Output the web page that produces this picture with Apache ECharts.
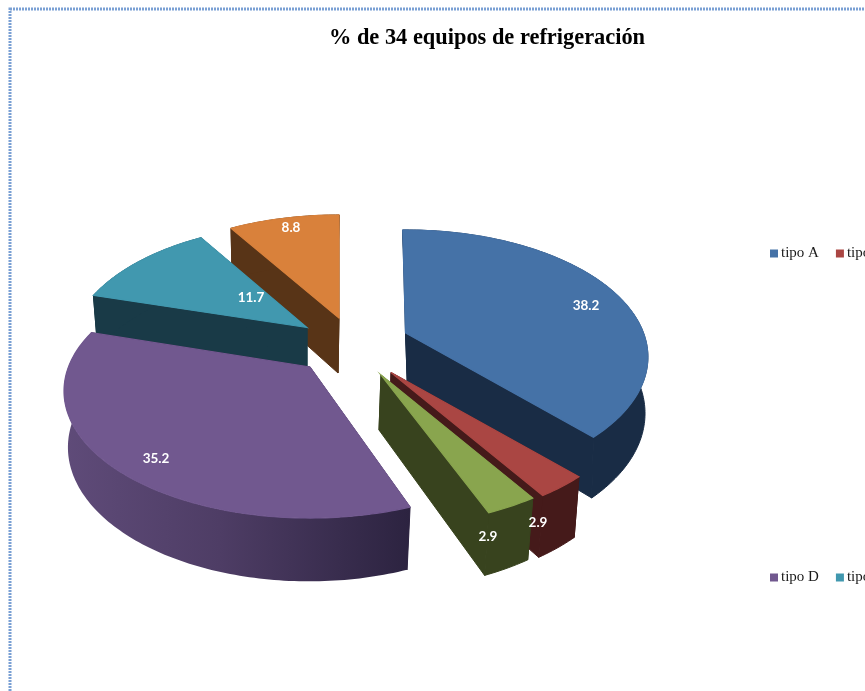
<!DOCTYPE html>
<html>
<head>
<meta charset="utf-8">
<style>html,body{margin:0;padding:0;background:#fff;overflow:hidden}#c{width:865px;height:691px}</style>
<script src="https://cdn.jsdelivr.net/npm/echarts@6/dist/echarts.min.js"></script>
</head>
<body>
<div id="c"></div>
<script>
var categories = ['tipo A', 'tipo B', 'tipo C', 'tipo D', 'tipo E', 'tipo F'];
var values = [38.2, 2.9, 2.9, 35.2, 11.7, 8.8];
var titleText = '% de 34 equipos de refrigeración';

// Style and placement of the exploded perspective pie
var topColors = ['#4572a7', '#aa4643', '#89a54e', '#71588f', '#4198af', '#d9813b'];
var sideColors = ['#192c45', '#451a1a', '#38431e', '#2f2542', '#193a47', '#583417'];
var apexX = [405.5, 391, 381, 310, 307, 339];
var apexY = [333, 372.5, 375, 367, 327.5, 318];
var sliceTurn = [0, 0, 0, 2, 0.8, 0.8];
var sliceScaleX = [1, 1, 1, 1.015, 0.982, 1];
var depthDx = [2, -1, -2, -1, 0, -1];
var labelDx = [180.5, 147, 107, -154, -56, -48];
var labelDy = [-27, 150.5, 162, 92, -29.5, -90];
var drawOrder = [5, 4, 3, 0, 1, 2];
var START_DEG = -0.8, R = 238, RY = 122.5, PERSP = 0.189, DEPTH = 55, BOTTOM_X = 0.98, BOTTOM_Y = 1.055;

var total = values.reduce(function (a, b) { return a + b; }, 0);

function sliceAngles(i) {
  var before = 0;
  for (var k = 0; k < i; k++) before += values[k];
  var a0 = START_DEG + sliceTurn[i] + before / total * 360;
  return [a0, a0 + values[i] / total * 360];
}
function project(i, deg, r, bottom) {
  var t = deg * Math.PI / 180;
  var u = r * Math.sin(t) * sliceScaleX[i], v = -r * Math.cos(t);
  var k = 1 / (1 - PERSP * v);
  if (bottom) {
    return [apexX[i] + depthDx[i] + BOTTOM_X * R * u * k, apexY[i] + DEPTH + BOTTOM_Y * RY * v * k];
  }
  return [apexX[i] + R * u * k, apexY[i] + RY * v * k];
}
function arc(i, a0, a1, bottom) {
  var pts = [], n = Math.max(6, Math.ceil(a1 - a0));
  for (var s = 0; s <= n; s++) pts.push(project(i, a0 + (a1 - a0) * s / n, 1, bottom));
  return pts;
}
function wallFill(i) {
  if (i !== 3) return sideColors[i];
  return new echarts.graphic.LinearGradient(0, 0, 1, 0, [
    { offset: 0, color: '#5f4b79' },
    { offset: 0.45, color: '#4e3d65' },
    { offset: 1, color: '#2c2340' }
  ]);
}
function renderSlice(i) {
  return function (params, api) {
    var ang = sliceAngles(i), a0 = ang[0], a1 = ang[1];
    var topArc = arc(i, a0, a1, false), botArc = arc(i, a0, a1, true);
    var A = project(i, 0, 0, false), B = project(i, 0, 0, true);
    function face(points, fill, lw) {
      return { type: 'polygon', shape: { points: points }, style: { fill: fill, stroke: fill, lineWidth: lw } };
    }
    return { type: 'group', children: [
      face([A, topArc[0], botArc[0], B], sideColors[i], 1),
      face([A, topArc[topArc.length - 1], botArc[botArc.length - 1], B], sideColors[i], 1),
      face(topArc.concat(botArc.slice().reverse()), wallFill(i), i === 3 ? 0 : 1),
      face([A].concat(topArc), topColors[i], 1.2)
    ] };
  };
}
function renderLabel(params, api) {
  var i = params.dataIndex;
  return {
    type: 'text',
    style: {
      x: apexX[i] + labelDx[i], y: apexY[i] + labelDy[i], text: String(api.value(0)),
      fill: '#fff', font: 'bold 13.5px Lato', align: 'center', verticalAlign: 'middle'
    }
  };
}

var series = drawOrder.map(function (i, order) {
  return {
    type: 'custom', name: categories[i], coordinateSystem: 'none', z: 2 + order, silent: true,
    itemStyle: { color: topColors[i] }, data: [[values[i]]], renderItem: renderSlice(i)
  };
});
series.push({
  type: 'custom', name: 'etiquetas', coordinateSystem: 'none', z: 20, silent: true,
  data: values.map(function (v) { return [v]; }), renderItem: renderLabel
});
function legendAt(top, names) {
  return {
    left: 765, top: top, width: 300, orient: 'horizontal', data: names, icon: 'rect',
    itemWidth: 8, itemHeight: 8, itemGap: 17, selectedMode: false,
    textStyle: { fontFamily: 'Liberation Serif', fontSize: 15, color: '#1a1a1a', padding: [0, 0, 0, -2] }
  };
}
var chart = echarts.init(document.getElementById('c'), null, { renderer: 'canvas' });
chart.setOption({
  animation: false,
  backgroundColor: '#fff',
  title: {
    text: titleText, left: 482, top: 22, textAlign: 'center',
    textStyle: { fontFamily: 'Liberation Serif', fontWeight: 'bold', fontSize: 22.4, color: '#000' }
  },
  legend: [legendAt(241, categories.slice(0, 3)), legendAt(565, categories.slice(3, 6))],
  graphic: [{
    type: 'rect', silent: true, z: 0,
    shape: { x: 10, y: 9, width: 1000, height: 1000 },
    style: { fill: 'none', stroke: '#7aa0d4', lineWidth: 3, lineDash: [2, 1] }
  }],
  series: series
});
</script>
</body>
</html>
